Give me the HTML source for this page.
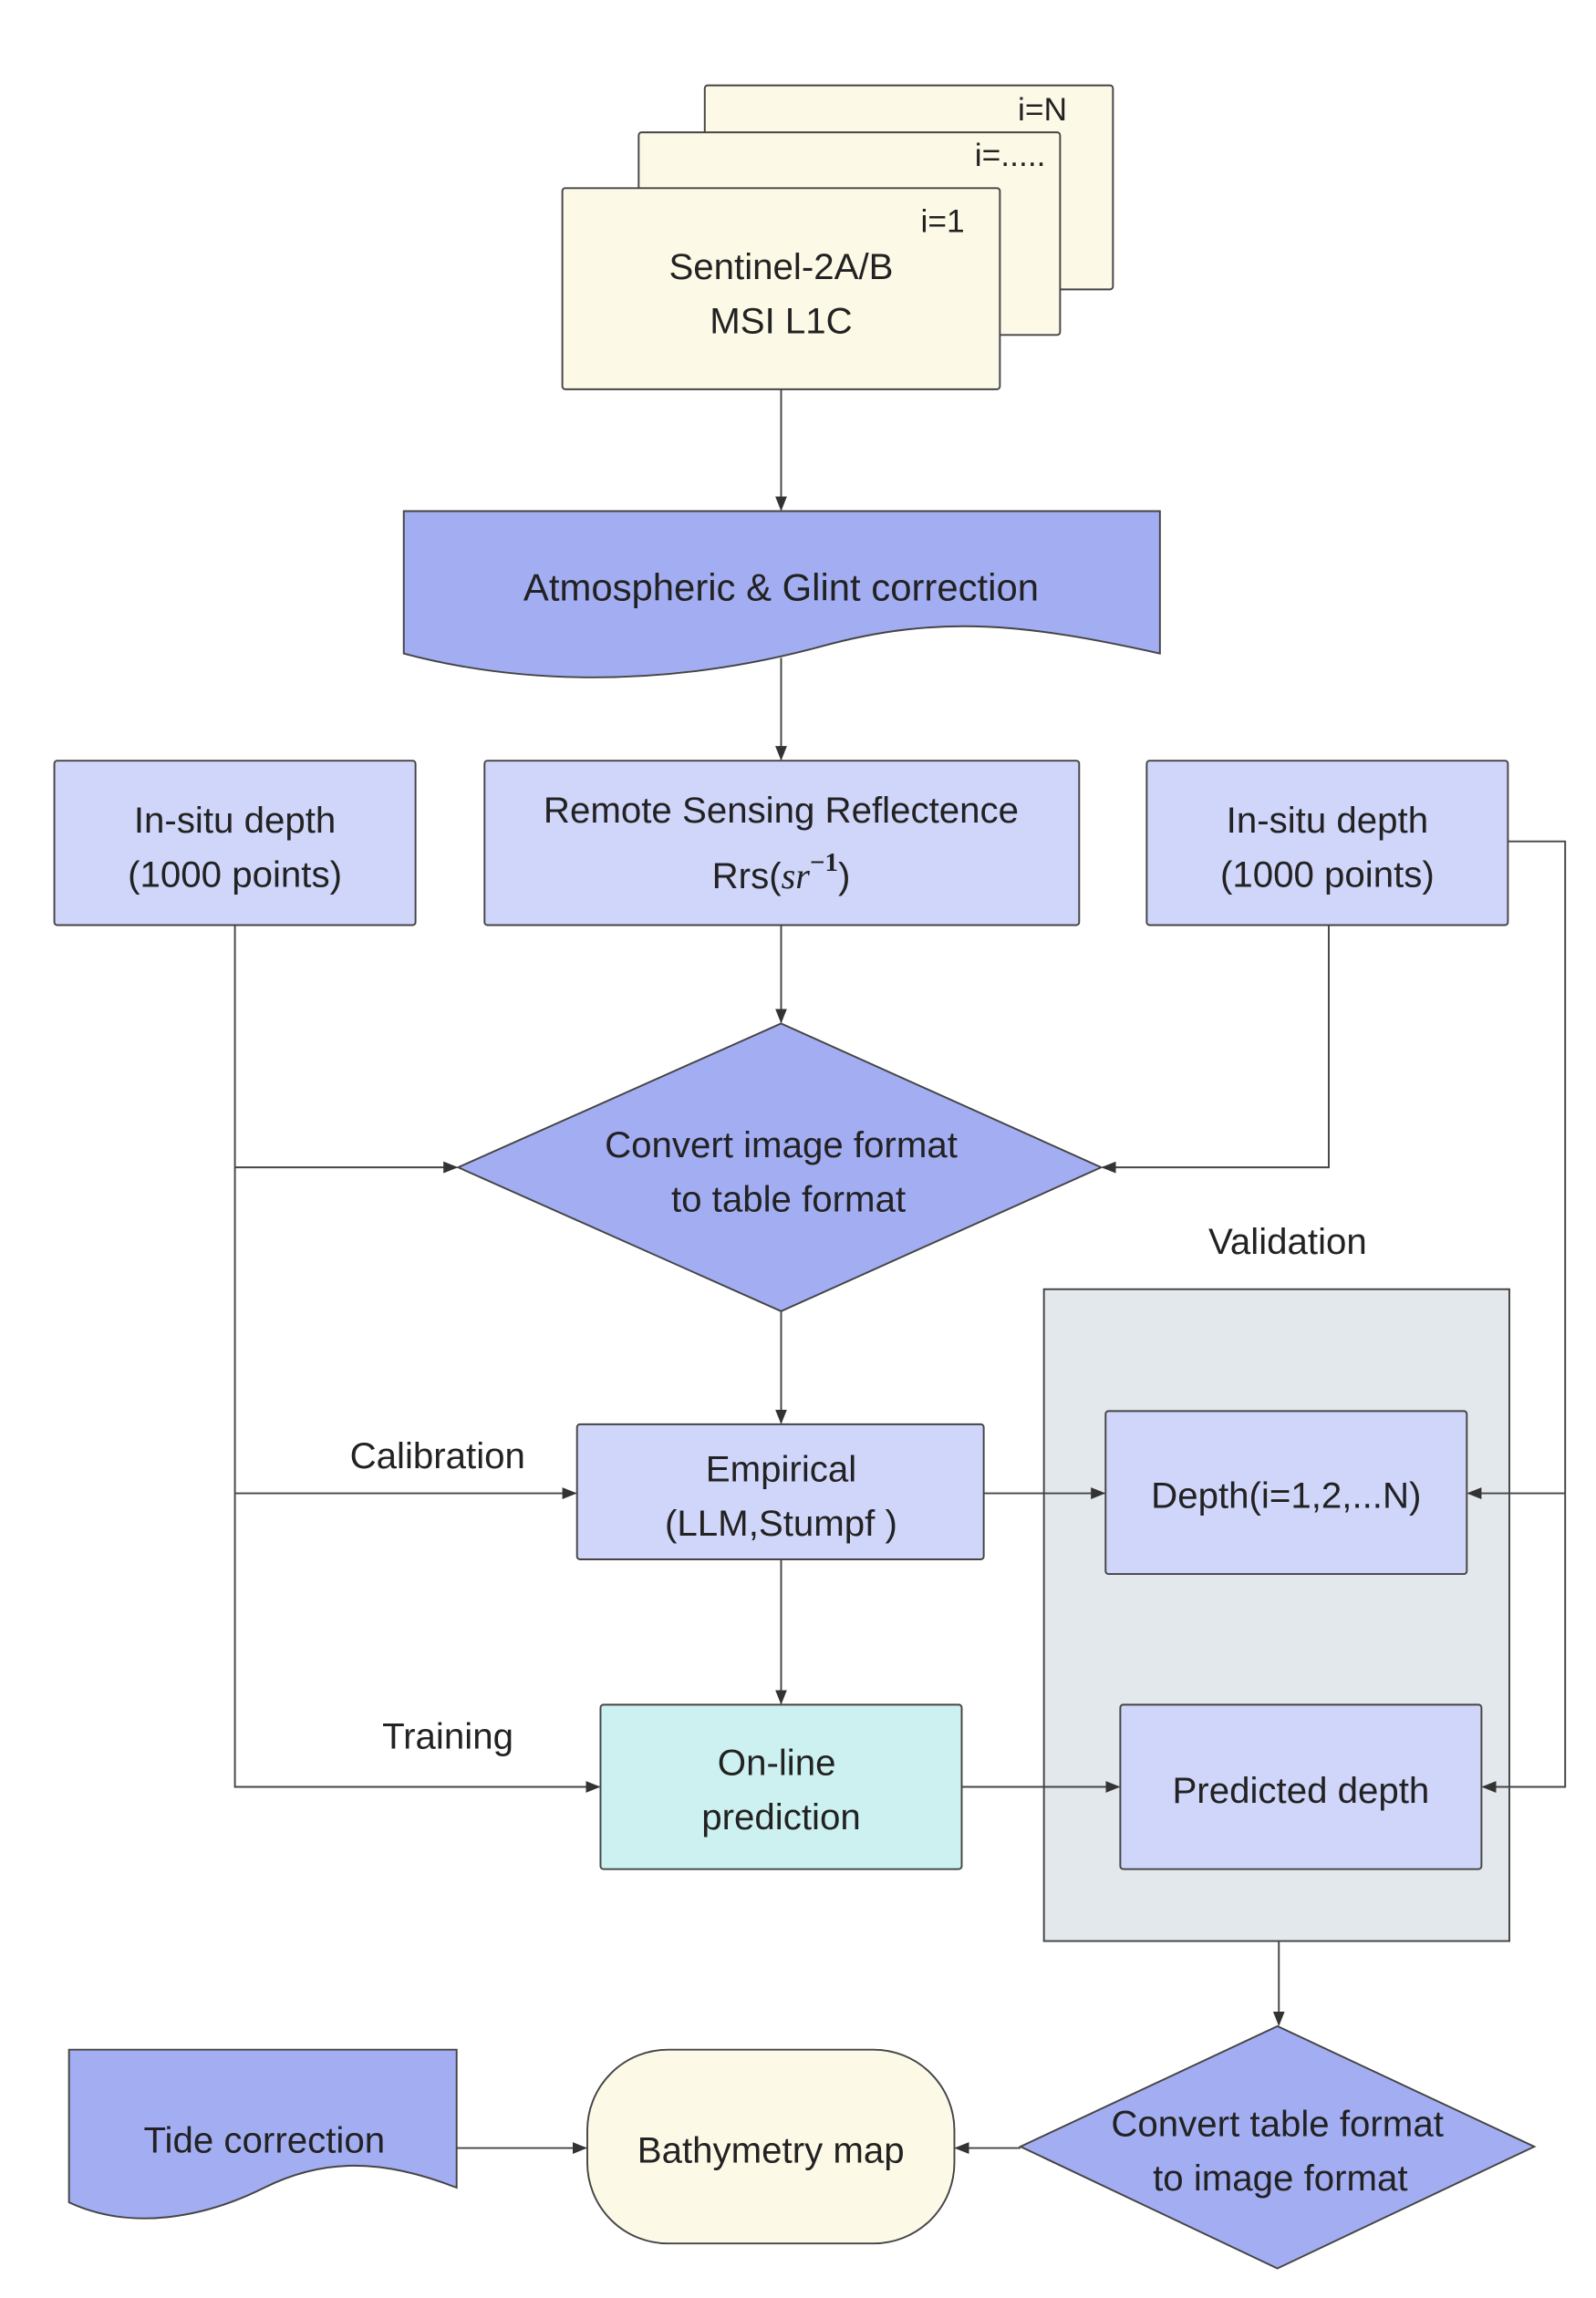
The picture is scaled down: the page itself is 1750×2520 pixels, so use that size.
<!DOCTYPE html>
<html><head><meta charset="utf-8"><style>html,body{margin:0;padding:0;background:#fff}svg{display:block}</style></head>
<body>
<svg width="1750" height="2520" viewBox="0 0 1087 1565" xmlns="http://www.w3.org/2000/svg" font-family="'Liberation Sans', sans-serif" font-size="25" fill="#222">
<defs><marker id="a" markerWidth="10" markerHeight="8" refX="9" refY="4" orient="auto" markerUnits="userSpaceOnUse"><path d="M0,0 L10,4 L0,8 z" fill="#333"/></marker></defs>
<g stroke="#444" stroke-width="1.2">
<rect x="480" y="58" width="278" height="139" fill="#fdf9e7" rx="2"/>
<rect x="435" y="90" width="287" height="138" fill="#fdf9e7" rx="2"/>
<rect x="383" y="128" width="298" height="137" fill="#fdf9e7" rx="2"/>
<path d="M275,348 L790,348 L790,445 C700,425 640,418 560,440 C450,470 350,465 275,445 Z" fill="#a3adf2"/>
<rect x="37" y="518" width="246" height="112" fill="#d0d5fa" rx="2"/>
<rect x="330" y="518" width="405" height="112" fill="#d0d5fa" rx="2"/>
<rect x="781" y="518" width="246" height="112" fill="#d0d5fa" rx="2"/>
<path d="M532,697 L750,795 L532,893 L312,795 Z" fill="#a3adf2"/>
<rect x="711" y="878" width="317" height="444" fill="#e3e8ec"/>
<rect x="393" y="970" width="277" height="92" fill="#d0d5fa" rx="2"/>
<rect x="753" y="961" width="246" height="111" fill="#d0d5fa" rx="2"/>
<rect x="763" y="1161" width="246" height="112" fill="#d0d5fa" rx="2"/>
<rect x="409" y="1161" width="246" height="112" fill="#cdf0f0" rx="2"/>
<path d="M870,1380 L1045,1462 L870,1545 L695,1462 Z" fill="#a3adf2"/>
<rect x="400" y="1396" width="250" height="132" rx="55" fill="#fdf9e7"/>
<path d="M47,1396 L311,1396 L311,1490 C260,1470 220,1470 180,1490 C140,1510 90,1520 47,1500 Z" fill="#a3adf2"/>
</g>
<g stroke="#444" stroke-width="1.2" fill="none">
<path d="M532,265 L532,347" marker-end="url(#a)"/>
<path d="M532,448 L532,517" marker-end="url(#a)"/>
<path d="M532,630 L532,696" marker-end="url(#a)"/>
<path d="M532,893 L532,969" marker-end="url(#a)"/>
<path d="M532,1062 L532,1160" marker-end="url(#a)"/>
<path d="M160,630 L160,1217 L408,1217" marker-end="url(#a)"/>
<path d="M160,795 L311,795" marker-end="url(#a)"/>
<path d="M160,1017 L392,1017" marker-end="url(#a)"/>
<path d="M905,630 L905,795 L751,795" marker-end="url(#a)"/>
<path d="M1027,573 L1066,573 L1066,1217 L1010,1217" marker-end="url(#a)"/>
<path d="M1066,1017 L1000,1017" marker-end="url(#a)"/>
<path d="M670,1017 L752,1017" marker-end="url(#a)"/>
<path d="M655,1217 L762,1217" marker-end="url(#a)"/>
<path d="M871,1322 L871,1379" marker-end="url(#a)"/>
<path d="M311,1463 L399,1463" marker-end="url(#a)"/>
<path d="M695,1463 L651,1463" marker-end="url(#a)"/>
</g>
<g text-anchor="middle">
<text x="710" y="82" font-size="22">i=N</text>
<text x="688" y="113" font-size="22">i=.....</text>
<text x="642" y="158" font-size="22">i=1</text>
<text x="532" y="190">Sentinel-2A/B</text>
<text x="532" y="227">MSI L1C</text>
<text x="532" y="409" font-size="26">Atmospheric &amp; Glint correction</text>
<text x="160" y="567">In-situ depth</text>
<text x="160" y="604">(1000 points)</text>
<text x="532" y="560">Remote Sensing Reflectence</text>
<text x="532" y="605">Rrs(<tspan font-family="'Liberation Serif',serif" font-style="italic">sr</tspan><tspan dy="-12" font-size="18" font-family="'Liberation Serif',serif" font-weight="bold">−1</tspan><tspan dy="12">)</tspan></text>
<text x="904" y="567">In-situ depth</text>
<text x="904" y="604">(1000 points)</text>
<text x="532" y="788">Convert image format</text>
<text x="537" y="825">to table format</text>
<text x="877" y="854">Validation</text>
<text x="298" y="1000">Calibration</text>
<text x="532" y="1009">Empirical</text>
<text x="532" y="1046">(LLM,Stumpf )</text>
<text x="876" y="1027">Depth(i=1,2,...N)</text>
<text x="305" y="1191">Training</text>
<text x="529" y="1209">On-line</text>
<text x="532" y="1246">prediction</text>
<text x="886" y="1228">Predicted depth</text>
<text x="870" y="1455">Convert table format</text>
<text x="872" y="1492">to image format</text>
<text x="525" y="1473">Bathymetry map</text>
<text x="180" y="1466">Tide correction</text>
</g>
</svg>
</body></html>
